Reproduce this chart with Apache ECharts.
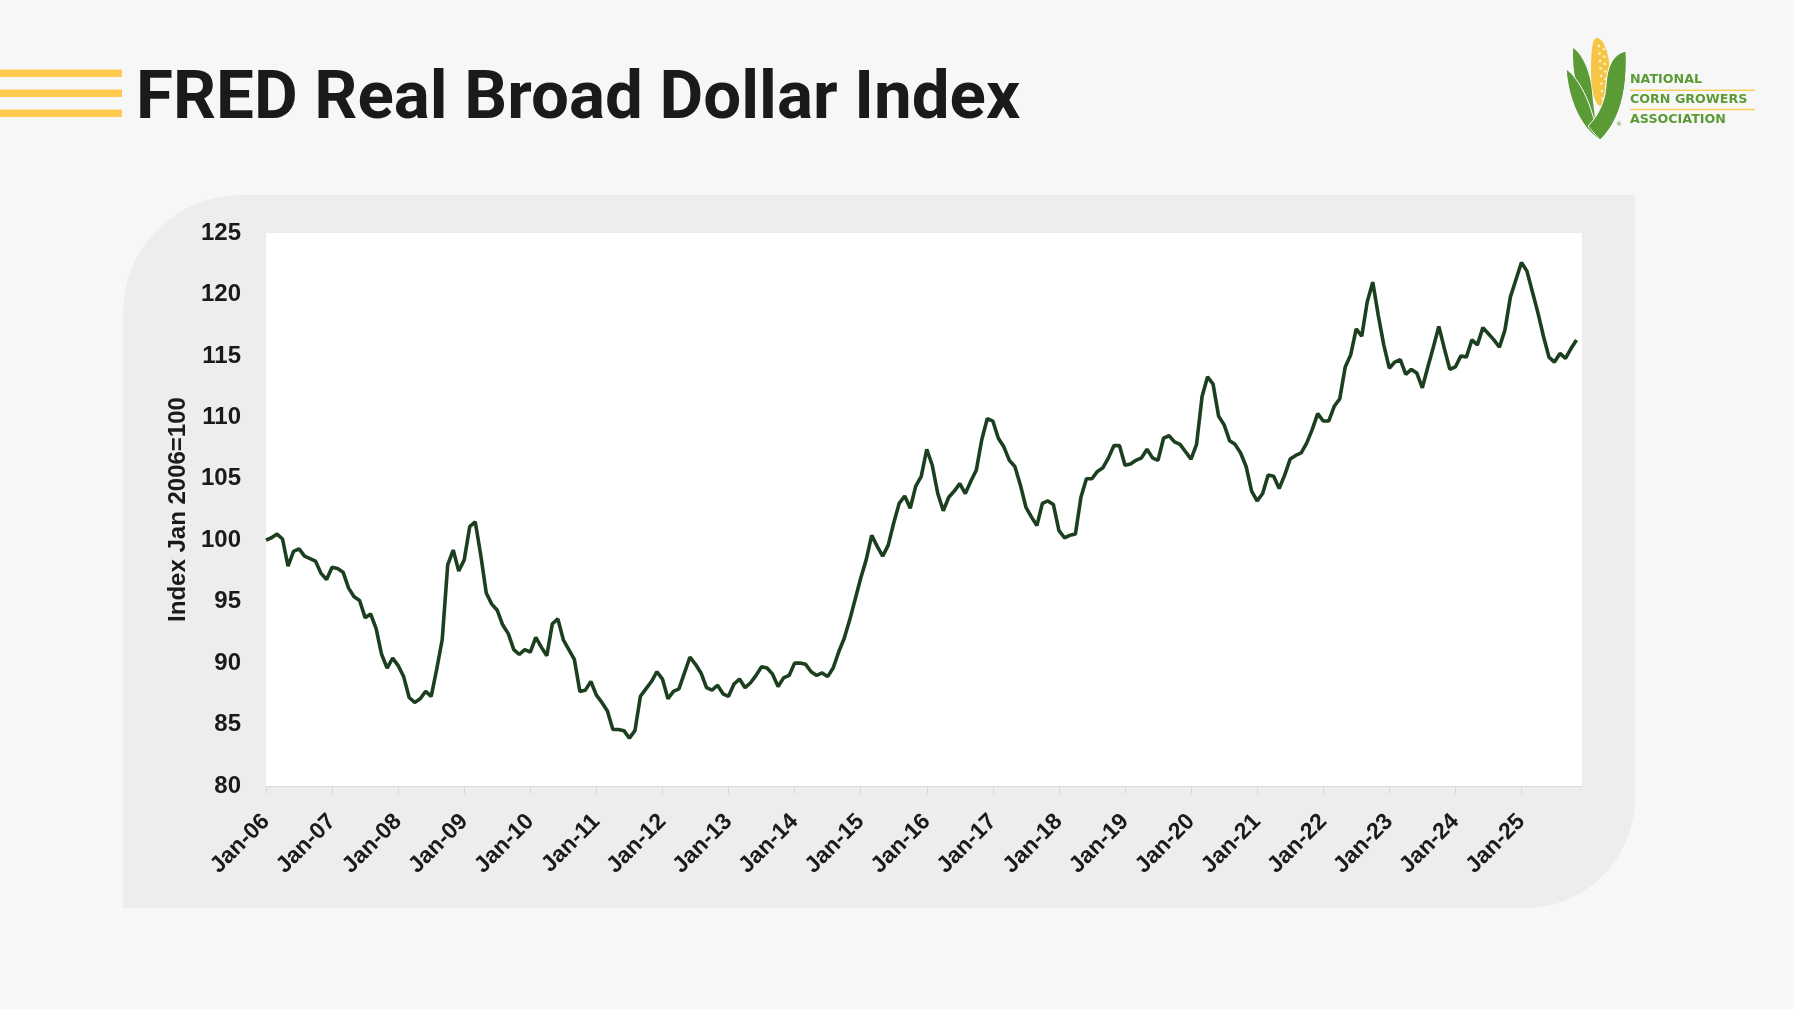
<!DOCTYPE html>
<html>
<head>
<meta charset="utf-8">
<script src="https://cdn.jsdelivr.net/npm/echarts@6/dist/echarts.min.js"></script>
<style>
html,body{margin:0;padding:0;background:#f7f7f7;}
#chart{width:1794px;height:1009px;}
</style>
</head>
<body>
<div id="chart"></div>
<script>
// ---- data ----
const titleText = 'FRED Real Broad Dollar Index';
const yAxisName = 'Index Jan 2006=100';
const monthNames = ['Jan','Feb','Mar','Apr','May','Jun','Jul','Aug','Sep','Oct','Nov','Dec'];
const yearSuffixes = ['06','07','08','09','10','11','12','13','14','15','16','17','18','19','20','21','22','23','24','25'];
const logoLines = ['NATIONAL','CORN GROWERS','ASSOCIATION'];

// Real Broad Dollar Index (Jan 2006 = 100), monthly
const index2006_2009 = [
  100.0,100.2,100.5,100.1,97.9,99.1,99.3,98.7,98.5,98.3,97.3,96.8,
  97.8,97.7,97.4,96.1,95.4,95.1,93.7,94.0,92.8,90.7,89.6,90.4,
  89.8,88.9,87.2,86.8,87.1,87.7,87.3,89.5,91.9,98.0,99.2,97.5,
  98.4,101.1,101.5,98.8,95.7,94.8,94.3,93.1,92.4,91.1,90.7,91.1
];
const index2010_2013 = [
  90.9,92.1,91.3,90.6,93.2,93.6,91.9,91.1,90.3,87.7,87.8,88.5,
  87.4,86.8,86.1,84.6,84.6,84.5,83.9,84.5,87.3,87.9,88.5,89.3,
  88.7,87.1,87.7,87.9,89.2,90.5,89.9,89.2,88.0,87.8,88.2,87.5,
  87.3,88.3,88.7,88.0,88.4,89.0,89.7,89.6,89.1,88.1,88.8,89.0
];
const index2014_2017 = [
  90.0,90.0,89.9,89.3,89.0,89.2,88.9,89.6,90.9,92.0,93.5,95.2,
  96.9,98.4,100.4,99.5,98.7,99.6,101.4,103.0,103.6,102.6,104.4,105.2,
  107.4,106.1,103.8,102.4,103.5,104.0,104.6,103.8,104.8,105.7,108.2,109.9,
  109.7,108.3,107.6,106.5,106.0,104.5,102.7,101.9,101.2,103.0,103.2,102.9
];
const index2018_2021 = [
  100.8,100.2,100.4,100.5,103.5,105.0,105.0,105.6,105.9,106.7,107.7,107.7,
  106.1,106.2,106.5,106.7,107.4,106.7,106.5,108.3,108.5,108.0,107.8,107.2,
  106.6,107.8,111.7,113.3,112.7,110.1,109.4,108.1,107.8,107.1,106.0,104.0,
  103.2,103.8,105.3,105.2,104.2,105.3,106.6,106.9,107.1,107.9,109.0,110.3
];
const index2022_2025 = [
  109.7,109.7,110.9,111.5,114.1,115.1,117.2,116.6,119.4,121.0,118.3,115.9,
  114.0,114.5,114.7,113.5,113.9,113.6,112.4,114.1,115.7,117.4,115.6,113.9,
  114.1,115.0,114.9,116.3,115.9,117.3,116.8,116.3,115.7,117.1,119.8,121.2,
  122.6,121.9,120.2,118.5,116.6,114.9,114.5,115.2,114.8,115.6,116.3
];

const categories = [];
yearSuffixes.forEach(y => monthNames.forEach(m => categories.push(m + '-' + y)));
const seriesValues = [].concat(index2006_2009, index2010_2013, index2014_2017, index2018_2021, index2022_2025);

// font size that makes a text fit a target width
function fitSize(text, weight, family, targetWidth) {
  const ctx = document.createElement('canvas').getContext('2d');
  ctx.font = weight + ' 100px ' + family;
  return 100 * targetWidth / ctx.measureText(text).width;
}
const titleFamily = 'Roboto, "Liberation Sans", Arial, sans-serif';
const titleSize = fitSize(titleText, 'bold', titleFamily, 884);
const logoFamily = '"DejaVu Sans", sans-serif';
const logoSize = fitSize(logoLines[1], 'bold', logoFamily, 118);

// sample a closed outline made of cubic bezier segments into polygon points (logo decoration)
function bezierOutline(start, segs) {
  const pts = [start];
  let p0 = start;
  segs.forEach(s => {
    const [c1, c2, p3] = s;
    for (let i = 1; i <= 12; i++) {
      const t = i / 12, u = 1 - t;
      pts.push([
        u*u*u*p0[0] + 3*u*u*t*c1[0] + 3*u*t*t*c2[0] + t*t*t*p3[0],
        u*u*u*p0[1] + 3*u*u*t*c1[1] + 3*u*t*t*c2[1] + t*t*t*p3[1]
      ]);
    }
    p0 = p3;
  });
  return pts;
}
const husk1 = bezierOutline([1573,48], [[[1582,54],[1590,70],[1592,92]], [[1593,104],[1595,116],[1596,128]], [[1582,110],[1572,82],[1573,48]]]);
const cob = bezierOutline([1597,38], [[[1605,38],[1611,60],[1610,80]], [[1609,98],[1605,106],[1601,106]], [[1595,106],[1591,90],[1591,72]], [[1591,52],[1592,38],[1597,38]]]);
const husk2 = bezierOutline([1566,69], [[[1574,74],[1583,88],[1589,104]], [[1594,118],[1597,130],[1600,140]], [[1582,128],[1569,104],[1566,69]]]);
const husk3 = bezierOutline([1626,51], [[[1613,54],[1607,66],[1606,86]], [[1605,104],[1596,118],[1588,126]], [[1592,131],[1596,135],[1600,140]], [[1619,122],[1628,92],[1626,51]]]);
const kernels = [];
for (let r = 0; r < 8; r++) {
  kernels.push({type: 'circle', shape: {cx: 1599 + r * 0.5, cy: 46 + r * 7.5, r: 1.3}, style: {fill: '#fff3c4'}});
  kernels.push({type: 'circle', shape: {cx: 1604 + r * 0.4, cy: 49 + r * 7.5, r: 1.3}, style: {fill: '#fff3c4'}});
}

// ---- chart ----
const chart = echarts.init(document.getElementById('chart'), null, {renderer: 'canvas'});
const green = '#5b9b36';
const axisFont = 'Liberation Sans, Arial, sans-serif';
const option = {
  backgroundColor: '#f7f7f7',
  animation: false,
  grid: {
    left: 266, top: 233, right: 212, bottom: 223,
    show: true, backgroundColor: '#ffffff', borderWidth: 0
  },
  xAxis: {
    type: 'category',
    data: categories,
    boundaryGap: false,
    axisLine: {show: true, lineStyle: {color: '#d9d9d9', width: 1}},
    axisTick: {show: true, interval: 11, length: 8, lineStyle: {color: '#d9d9d9'}},
    axisLabel: {
      interval: 11, rotate: 45, margin: 32,
      fontFamily: axisFont, fontWeight: 'bold', fontSize: 23, color: '#1a1a1a'
    },
    splitLine: {show: false}
  },
  yAxis: {
    type: 'value', min: 80, max: 125, interval: 5,
    name: yAxisName, nameLocation: 'middle', nameRotate: 90, nameGap: 76,
    nameTextStyle: {fontFamily: axisFont, fontWeight: 'bold', fontSize: 24, color: '#1a1a1a'},
    axisLine: {show: false}, axisTick: {show: false},
    axisLabel: {margin: 25, fontFamily: axisFont, fontWeight: 'bold', fontSize: 24, color: '#1a1a1a'},
    splitLine: {show: false}
  },
  series: [{
    type: 'line', data: seriesValues, showSymbol: false, smooth: false,
    lineStyle: {color: '#1c3f1f', width: 3.6}, itemStyle: {color: '#1c3f1f'}
  }],
  graphic: [
    {type: 'rect', z: -10, silent: true,
     shape: {x: 123, y: 195, width: 1512, height: 713, r: [118, 0, 110, 0]},
     style: {fill: '#ededed'}},
    {type: 'rect', shape: {x: 0, y: 69.5, width: 122, height: 7.5}, style: {fill: '#ffc94f'}},
    {type: 'rect', shape: {x: 0, y: 89.5, width: 122, height: 7.5}, style: {fill: '#ffc94f'}},
    {type: 'rect', shape: {x: 0, y: 109.5, width: 122, height: 7.5}, style: {fill: '#ffc94f'}},
    {type: 'text', x: 136, y: 101,
     style: {text: titleText, font: 'bold ' + titleSize.toFixed(1) + 'px ' + titleFamily,
             fill: '#1a1a1a', verticalAlign: 'middle', align: 'left'}},
    // logo: corn
    {type: 'polygon', shape: {points: husk1}, style: {fill: green}},
    {type: 'polygon', shape: {points: cob}, style: {fill: '#f7c545'}}
  ].concat(kernels, [
    {type: 'polygon', shape: {points: husk2}, style: {fill: green, stroke: '#ffffff', lineWidth: 1}},
    {type: 'polygon', shape: {points: husk3}, style: {fill: green, stroke: '#ffffff', lineWidth: 1}},
    {type: 'rect', shape: {x: 1630, y: 89.5, width: 125, height: 1.4}, style: {fill: '#f6cf5a'}},
    {type: 'rect', shape: {x: 1630, y: 108.8, width: 125, height: 1.4}, style: {fill: '#f6cf5a'}},
    {type: 'text', x: 1630, y: 80, style: {text: logoLines[0], font: 'bold ' + logoSize.toFixed(1) + 'px ' + logoFamily, fill: green, verticalAlign: 'middle'}},
    {type: 'text', x: 1630, y: 100, style: {text: logoLines[1], font: 'bold ' + logoSize.toFixed(1) + 'px ' + logoFamily, fill: green, verticalAlign: 'middle'}},
    {type: 'text', x: 1630, y: 120, style: {text: logoLines[2], font: 'bold ' + logoSize.toFixed(1) + 'px ' + logoFamily, fill: green, verticalAlign: 'middle'}},
    {type: 'text', x: 1616, y: 124, style: {text: '®', font: '6px "DejaVu Sans", sans-serif', fill: green, verticalAlign: 'middle'}}
  ])
};
chart.setOption(option);
</script>
</body>
</html>
